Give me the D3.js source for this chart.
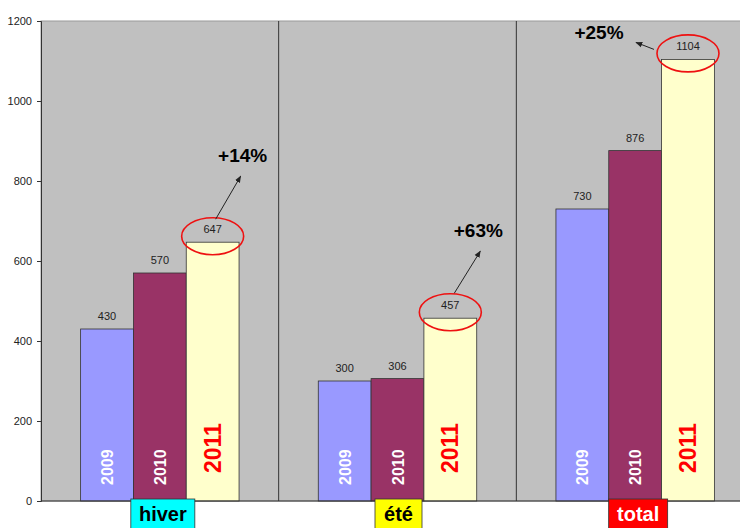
<!DOCTYPE html>
<html>
<head>
<meta charset="utf-8">
<script src="https://cdn.jsdelivr.net/npm/d3@7"></script>
<style>
  body { margin: 0; background: #fff; }
  svg { display: block; font-family: Arial, "Liberation Sans", sans-serif; }
</style>
</head>
<body>
<svg id="chart" width="740" height="528"></svg>
<script>
// chart data
const seasons = ["hiver", "été", "total"];
const years = ["2009", "2010", "2011"];
const values2009 = [430, 300, 730];
const values2010 = [570, 306, 876];
const values2011 = [647, 457, 1104];
const growth = ["+14%", "+63%", "+25%"];
const yTicks = [0, 200, 400, 600, 800, 1000, 1200];

const seasonFill = ["#00FFFF", "#FFFF00", "#FF0000"];
const seasonText = ["#000", "#000", "#fff"];
const yearFill = ["#9999FF", "#993366", "#FFFFCC"];

const margin = { left: 41, top: 21, right: -14, bottom: 27 };
const W = 740, H = 528;

const svg = d3.select("#chart");

const x0 = d3.scaleBand()
    .domain(seasons)
    .range([margin.left, W - margin.right])
    .paddingInner(0).paddingOuter(0);

const x1 = d3.scaleBand()
    .domain(years)
    .range([0, x0.bandwidth()])
    .paddingOuter(0.75).paddingInner(0);

const y = d3.scaleLinear()
    .domain([0, 1200])
    .range([H - margin.bottom, margin.top]);

const rows = seasons.map((s, i) => ({
    season: s,
    idx: i,
    vals: [values2009[i], values2010[i], values2011[i]]
}));

// plot background
svg.append("rect")
    .attr("x", margin.left).attr("y", y(1200))
    .attr("width", W - margin.right - margin.left)
    .attr("height", y(0) - y(1200))
    .attr("fill", "#C0C0C0")
    .attr("stroke", "#999").attr("stroke-width", 1);

// group dividers
svg.append("g").selectAll("line")
    .data(seasons.slice(1))
    .join("line")
    .attr("x1", d => x0(d)).attr("x2", d => x0(d))
    .attr("y1", y(1200)).attr("y2", y(0))
    .attr("stroke", "#333").attr("stroke-width", 1);

// bars
const groups = svg.append("g").selectAll("g")
    .data(rows)
    .join("g")
    .attr("transform", d => `translate(${x0(d.season)},0)`);

groups.selectAll("rect")
    .data(d => d.vals.map((v, j) => ({ v, j, year: years[j] })))
    .join("rect")
    .attr("x", d => x1(d.year))
    .attr("y", d => y(d.v))
    .attr("width", x1.bandwidth())
    .attr("height", d => y(0) - y(d.v))
    .attr("fill", d => yearFill[d.j])
    .attr("stroke", "#333").attr("stroke-width", 0.8);

// value labels
groups.selectAll("text.val")
    .data(d => d.vals.map((v, j) => ({ v, j, year: years[j] })))
    .join("text")
    .attr("class", "val")
    .attr("x", d => x1(d.year) + x1.bandwidth() / 2)
    .attr("y", d => y(d.v) - 9)
    .attr("text-anchor", "middle")
    .attr("font-size", 11)
    .attr("fill", "#222")
    .text(d => d.v);

// year labels inside bars (rotated)
groups.selectAll("text.yr")
    .data(years.map((yr, j) => ({ yr, j })))
    .join("text")
    .attr("class", "yr")
    .attr("transform", d => {
        const cx = x1(d.yr) + x1.bandwidth() / 2;
        const cy = d.j === 2 ? y(0) - 28 : y(0) - 16;
        return `translate(${cx + (d.j === 2 ? 8 : 6)},${cy}) rotate(-90)`;
    })
    .attr("font-size", d => d.j === 2 ? 23 : 16)
    .attr("font-weight", "bold")
    .attr("fill", d => d.j === 2 ? "#FF0000" : "#fff")
    .text(d => d.yr);

// y axis
const yAxis = svg.append("g")
    .attr("transform", `translate(${margin.left},0)`)
    .call(d3.axisLeft(y).tickValues(yTicks).tickFormat(d3.format("d")).tickSize(4).tickPadding(5));
yAxis.select(".domain").attr("stroke", "#333");
yAxis.selectAll(".tick line").attr("stroke", "#333");
yAxis.selectAll(".tick text")
    .attr("font-size", 11)
    .attr("font-family", "Arial, 'Liberation Sans', sans-serif")
    .attr("fill", "#222");

// x baseline
svg.append("line")
    .attr("x1", margin.left).attr("x2", W)
    .attr("y1", y(0)).attr("y2", y(0))
    .attr("stroke", "#333");

// season labels with coloured boxes
const labelW = [64, 47, 59];
const labelG = svg.append("g").selectAll("g")
    .data(rows)
    .join("g")
    .attr("transform", d => `translate(${x0(d.season) + x1("2010") + x1.bandwidth() / 2 + (d.idx === 1 ? 1 : 3)},${y(0) - 2})`);
labelG.append("rect")
    .attr("x", d => -labelW[d.idx] / 2)
    .attr("y", 0)
    .attr("width", d => labelW[d.idx])
    .attr("height", 32)
    .attr("fill", d => seasonFill[d.idx])
    .attr("stroke", "#333").attr("stroke-width", 0.8);
labelG.append("text")
    .attr("x", 0).attr("y", 22)
    .attr("text-anchor", "middle")
    .attr("font-size", 20)
    .attr("font-weight", "bold")
    .attr("fill", d => seasonText[d.idx])
    .text(d => d.season);

// annotations: red ellipse, arrow, growth text
svg.append("defs").append("marker")
    .attr("id", "arr")
    .attr("viewBox", "0 0 10 10")
    .attr("refX", 9).attr("refY", 5)
    .attr("markerWidth", 7).attr("markerHeight", 7)
    .attr("orient", "auto")
    .append("path")
    .attr("d", "M0,1 L10,5 L0,9 Z")
    .attr("fill", "#222");

const arrowFrom = [[3, -17], [4, -19], [-34, -4]];
const arrowTo = [[28, -60], [30, -61], [-52, -11]];
const textPos = [[30, -74], [28, -75], [-89, -14]];

rows.forEach((d, i) => {
    const cx = x0(d.season) + x1("2011") + x1.bandwidth() / 2;
    const cy = y(values2011[i]) - 6;
    svg.append("ellipse")
        .attr("cx", cx).attr("cy", cy)
        .attr("rx", 31).attr("ry", 18.5)
        .attr("fill", "none")
        .attr("stroke", "#EE1111").attr("stroke-width", 1.6);
    svg.append("line")
        .attr("x1", cx + arrowFrom[i][0]).attr("y1", cy + arrowFrom[i][1])
        .attr("x2", cx + arrowTo[i][0]).attr("y2", cy + arrowTo[i][1])
        .attr("stroke", "#222").attr("stroke-width", 1)
        .attr("marker-end", "url(#arr)");
    svg.append("text")
        .attr("x", cx + textPos[i][0]).attr("y", cy + textPos[i][1])
        .attr("text-anchor", "middle")
        .attr("font-size", 19)
        .attr("font-weight", "bold")
        .attr("fill", "#000")
        .text(growth[i]);
});
</script>
</body>
</html>
